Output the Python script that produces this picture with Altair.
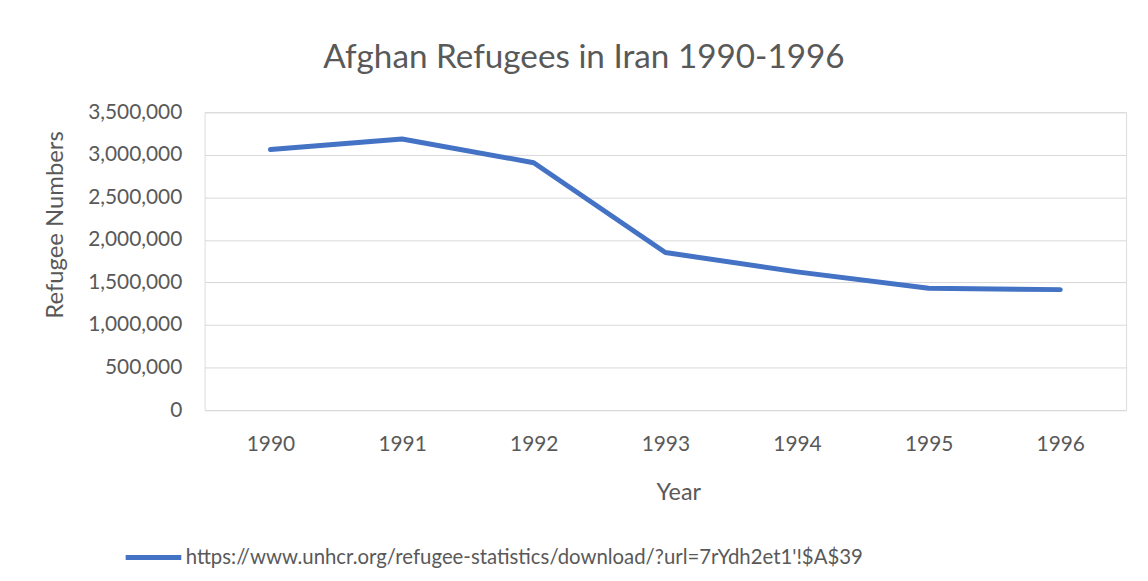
import altair as alt
import pandas as pd

years = ["1990", "1991", "1992", "1993", "1994", "1995", "1996"]
refugees = [3063000, 3186000, 2907000, 1852000, 1625000, 1432000, 1416000]
series_name = "https://www.unhcr.org/refugee-statistics/download/?url=7rYdh2et1'!$A$39"
y_ticks = [0, 500000, 1000000, 1500000, 2000000, 2500000, 3000000, 3500000]

df = pd.DataFrame({"Year": years, "Refugees": refugees, "series": [series_name] * len(years)})

FONT = "Lato"
GREY = "#595959"

chart = (
    alt.Chart(df)
    .mark_line(strokeWidth=5, strokeCap="round", strokeJoin="round")
    .encode(
        x=alt.X(
            "Year:N",
            sort=years,
            scale=alt.Scale(type="point", padding=0.5),
            axis=alt.Axis(
                title="Year",
                labelAngle=0,
                labelPadding=24,
                labelFontSize=21,
                labelColor=GREY,
                labelFont=FONT,
                ticks=False,
                domain=False,
                grid=False,
                titleFontSize=23.5,
                titleFontWeight="normal",
                titleColor=GREY,
                titleFont=FONT,
                titleX=477,
                titleY=71,
            ),
        ),
        y=alt.Y(
            "Refugees:Q",
            scale=alt.Scale(domain=[0, 3500000], nice=False),
            axis=alt.Axis(
                title="Refugee Numbers",
                values=y_ticks,
                format=",d",
                labelPadding=23,
                labelFontSize=21,
                labelColor=GREY,
                labelFont=FONT,
                ticks=False,
                domain=False,
                gridColor="#d9d9d9",
                gridWidth=1,
                titleFontSize=24,
                titleFontWeight="normal",
                titleColor=GREY,
                titleFont=FONT,
                titleX=-138,
                titleY=113,
            ),
        ),
        color=alt.Color(
            "series:N",
            scale=alt.Scale(domain=[series_name], range=["#4472C4"]),
            legend=alt.Legend(
                title=None,
                orient="none",
                legendX=-82,
                legendY=418,
                symbolType="stroke",
                symbolSize=3136,
                symbolStrokeWidth=5,
                labelFontSize=20.5,
                labelColor=GREY,
                labelFont=FONT,
                labelOffset=2,
                labelLimit=1000,
            ),
        ),
    )
    .properties(
        width=928,
        height=300,
        padding={"left": 198, "top": 103, "right": 14, "bottom": 160},
        autosize=alt.AutoSizeParams(type="none"),
        title=alt.TitleParams(
            "Afghan Refugees in Iran 1990-1996",
            fontSize=33.5,
            fontWeight="normal",
            color=GREY,
            font=FONT,
            anchor="middle",
            dx=-82,
            offset=26,
        ),
    )
    .configure_view(stroke=None)
    .configure(background="white")
)

chart.save("out.html", embed_options={"renderer": "svg", "actions": False})
